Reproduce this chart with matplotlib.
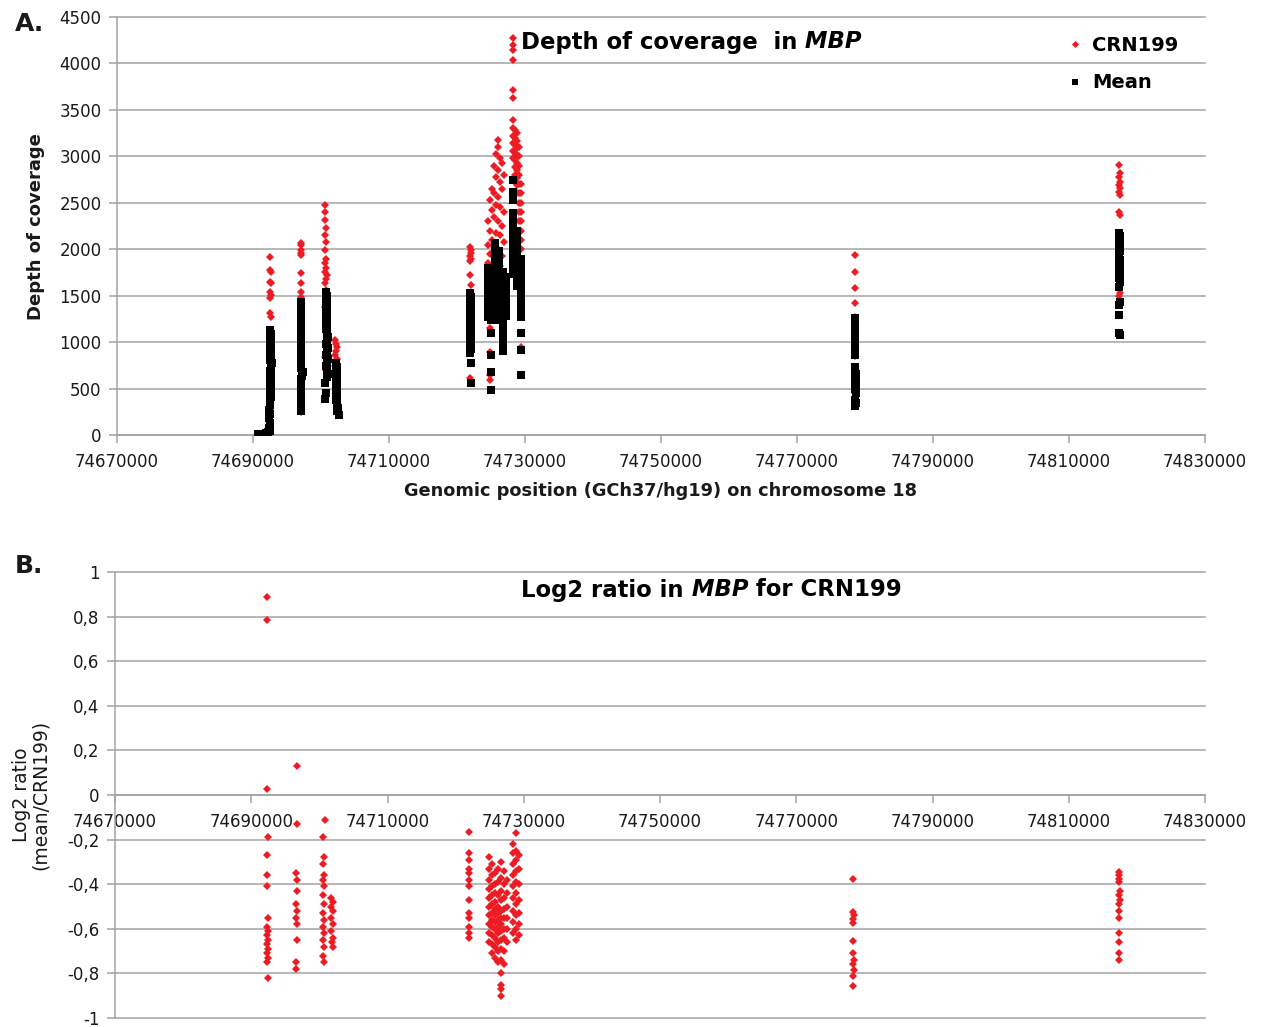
import matplotlib
matplotlib.use("Agg")
import matplotlib.pyplot as plt
from matplotlib.lines import Line2D
from matplotlib.ticker import FixedLocator, FuncFormatter

plt.rcParams['font.family'] = ['DejaVu Sans']

# ---------------- data ----------------
x_ticks = [74670000, 74690000, 74710000, 74730000, 74750000,
           74770000, 74790000, 74810000, 74830000]
depth_ticks = [0, 500, 1000, 1500, 2000, 2500, 3000, 3500, 4000, 4500]
ratio_ticks = [-1, -0.8, -0.6, -0.4, -0.2, 0, 0.2, 0.4, 0.6, 0.8, 1]

# CRN199 depth of coverage: (genomic position, [depth values at that position column])
crn199_columns = [
    (74692500, [1917, 1777, 1648, 1540, 1475, 1314, 1130, 870, 640, 400, 270]),
    (74692650, [1755, 1637, 1508, 1271, 1000, 760, 520]),
    (74697000, [2068, 1992, 1939, 1745, 1540, 1378, 1055, 732, 480, 248]),
    (74697100, [2046, 1960, 1637, 1486, 1206, 894, 600]),
    (74700600, [2477, 2400, 2315, 2150, 1990, 1850, 1760, 1640, 1380, 840]),
    (74700750, [2230, 2080, 1900, 1800, 1680, 1560, 1345, 700]),
    (74700900, [1720, 1160, 625]),
    (74702000, [1020, 860, 740]),
    (74702150, [980, 900, 780]),
    (74702300, [950, 820, 700]),
    (74721900, [2025, 1930, 1870, 1723, 1530, 1163, 614]),
    (74722050, [1990, 1960, 1900, 1615, 1378, 970]),
    (74724560, [2300, 2050, 1850, 1530, 1450]),
    (74724850, [2530, 2200, 1950, 1600, 1250, 1150, 894, 646, 592]),
    (74725150, [2650, 2420, 2100, 1780]),
    (74725440, [2900, 2600, 2350, 2020, 1700]),
    (74725740, [3020, 2780, 2480, 2180, 1900]),
    (74726030, [3177, 3100, 2850, 2560, 2300, 2000, 1550]),
    (74726320, [2980, 2720, 2450, 2150, 1820]),
    (74726620, [2930, 2650, 2250, 1930, 1350]),
    (74726910, [2800, 2400, 2080, 1650]),
    (74728240, [4275, 4200, 4150, 4040, 3715, 3630, 3390, 3300, 3220, 3140, 3060, 2980]),
    (74728530, [3280, 3200, 3120, 3040, 2960, 2880, 2800, 2720]),
    (74728820, [3250, 3170, 3090, 3010, 2930, 2850, 2770, 2690, 2610]),
    (74729120, [3100, 3000, 2900, 2800, 2700, 2600, 2500, 2400, 2300]),
    (74729410, [2700, 2600, 2500, 2400, 2300, 2200, 2100, 2000, 1900, 1314, 948]),
    (74778500, [1938, 1755, 1422, 1150, 850, 452]),
    (74778600, [1583, 1271, 1000, 700, 360]),
    (74817400, [2908, 2779, 2693, 2617, 2400, 1745, 1500]),
    (74817500, [2822, 2725, 2660, 2585, 2370, 1530]),
]

# Mean depth of coverage: (genomic position, [depth values])
mean_columns = [
    (74690750, [8]), (74691050, [10]), (74691350, [12]), (74691650, [15]),
    (74691950, [22]), (74692200, [35]),
    (74692350, [270, 180, 80]),
    (74692500, [1130, 1050, 970, 890, 810, 690, 610, 530, 450, 370, 320, 230, 130, 40]),
    (74692650, [1090, 1010, 930, 850, 730, 650, 570, 490, 410]),
    (74692800, [770]),
    (74697000, [1430, 1345, 1250, 1170, 1090, 1010, 880, 810, 600, 520, 410, 330, 255]),
    (74697100, [1390, 1290, 1210, 1130, 1050, 960, 840, 720, 560, 450, 370, 290]),
    (74697200, [640]), (74697350, [680]),
    (74700600, [560, 390]),
    (74700750, [1540, 1460, 1380, 1300, 1220, 1140, 980, 860, 740, 450]),
    (74700900, [1500, 1420, 1340, 1260, 1180, 1100, 1020, 900, 780, 700, 620]),
    (74701050, [1060, 940, 820, 660]),
    (74702150, [775, 695, 615, 535, 455, 375]),
    (74702300, [735, 655, 575, 495, 415, 335, 255]),
    (74702450, [295]), (74702600, [215]),
    (74721900, [1530, 1450, 1370, 1290, 1210, 1130, 1050, 970, 883]),
    (74722050, [1490, 1410, 1330, 1250, 1170, 1090, 1010, 930, 775, 560]),
    (74724560, [1800, 1750, 1700, 1650, 1600, 1550, 1500, 1450, 1400, 1350, 1300, 1270]),
    (74725000, [1780, 1720, 1660, 1600, 1540, 1480, 1420, 1360, 1300, 1240, 1100, 860, 680, 485]),
    (74725590, [2068, 2000, 1940, 1880, 1820, 1760, 1700, 1640, 1580, 1520, 1460, 1400, 1340, 1280, 1240]),
    (74726180, [1980, 1910, 1840, 1780, 1720, 1660, 1600, 1540, 1480, 1420, 1360, 1300, 1240]),
    (74726770, [1750, 1690, 1630, 1570, 1510, 1450, 1390, 1330, 1270, 1210, 1150, 1090, 1030, 970, 900]),
    (74727210, [1700, 1640, 1580, 1520, 1460, 1400, 1340, 1280]),
    (74728240, [2746, 2617, 2570, 2530, 2390, 2330, 2270, 2210, 2150, 2090, 2030, 1970, 1910, 1850, 1790, 1730]),
    (74728820, [2200, 2140, 2080, 2020, 1960, 1900, 1840, 1780, 1720, 1660, 1600]),
    (74729410, [1900, 1840, 1780, 1720, 1670, 1610, 1550, 1490, 1430, 1370, 1314, 1270, 1100, 915, 646]),
    (74778500, [1260, 1200, 1140, 1080, 1020, 937, 860, 700, 620, 560, 490, 377, 310]),
    (74778600, [1230, 1170, 1110, 1050, 990, 900, 732]),
    (74778650, [660, 592, 520, 452, 340]),
    (74817400, [2175, 2100, 2020, 1940, 1852, 1770, 1690, 1594, 1400, 1292]),
    (74817500, [2140, 2060, 1980, 1885, 1810, 1730, 1650, 1432]),
    (74817300, [1098]), (74817450, [1080]),
]

# Log2 ratio (mean/CRN199): (genomic position, [ratio values])
ratio_columns = [
    (74692300, [0.888, 0.785, 0.027, -0.27, -0.36, -0.41, -0.59, -0.63, -0.67, -0.71, -0.75]),
    (74692450, [-0.19, -0.55, -0.61, -0.65, -0.69, -0.73, -0.82]),
    (74696600, [-0.35, -0.49, -0.55, -0.75, -0.78]),
    (74696700, [0.13, -0.13, -0.43, -0.65]),
    (74696750, [-0.38, -0.52, -0.58]),
    (74700500, [-0.19, -0.31, -0.38, -0.45, -0.53, -0.59, -0.65, -0.72]),
    (74700650, [-0.28, -0.36, -0.41, -0.49, -0.56, -0.62, -0.68, -0.75]),
    (74700800, [-0.11]),
    (74701700, [-0.46, -0.50, -0.55, -0.61]),
    (74701850, [-0.66]),
    (74702000, [-0.48, -0.52, -0.58, -0.64, -0.68]),
    (74721900, [-0.166, -0.26, -0.29, -0.35, -0.41, -0.47, -0.55, -0.62]),
    (74722000, [-0.33, -0.38, -0.53, -0.59, -0.64]),
    (74724903, [-0.28, -0.33, -0.38, -0.42, -0.46, -0.50, -0.54, -0.58, -0.62, -0.66]),
    (74725344, [-0.31, -0.36, -0.41, -0.45, -0.49, -0.53, -0.56, -0.59, -0.63, -0.67, -0.71]),
    (74725784, [-0.35, -0.40, -0.44, -0.48, -0.51, -0.54, -0.57, -0.60, -0.64, -0.68, -0.73]),
    (74726224, [-0.33, -0.39, -0.45, -0.50, -0.53, -0.56, -0.59, -0.62, -0.66, -0.70, -0.75]),
    (74726665, [-0.30, -0.37, -0.43, -0.47, -0.52, -0.55, -0.58, -0.61, -0.65, -0.69, -0.74, -0.80, -0.85, -0.87, -0.90]),
    (74727105, [-0.34, -0.40, -0.46, -0.51, -0.55, -0.60, -0.64, -0.70, -0.76]),
    (74727546, [-0.38, -0.44, -0.50, -0.55, -0.60, -0.66]),
    (74728426, [-0.22, -0.26, -0.31, -0.36, -0.41, -0.46, -0.52, -0.57, -0.62]),
    (74728867, [-0.17, -0.25, -0.29, -0.34, -0.39, -0.44, -0.49, -0.54, -0.60, -0.65]),
    (74729307, [-0.27, -0.33, -0.40, -0.47, -0.53, -0.58, -0.63]),
    (74778400, [-0.377, -0.525, -0.575, -0.655, -0.71, -0.76, -0.81, -0.856]),
    (74778450, [-0.54, -0.74, -0.785]),
    (74778350, [-0.555]),
    (74817400, [-0.345, -0.36, -0.375, -0.39, -0.45, -0.52, -0.55, -0.62, -0.66, -0.71, -0.74]),
    (74817450, [-0.43, -0.47]),
    (74817350, [-0.49]),
]


def expand(columns):
    xs, ys = [], []
    for pos, vals in columns:
        for v in vals:
            xs.append(pos)
            ys.append(v)
    return xs, ys


RED = '#ED1C24'
GRID = '#a3a3a3'
TXT = '#1a1a1a'
W, H = 1262, 1027
RED_MS = 4.2
BLK_MS = 5.3

fig = plt.figure(figsize=(W / 100, H / 100), dpi=100)
ax1 = fig.add_axes([117 / W, 1 - 435 / H, (1205 - 117) / W, (435 - 17) / H])
ax2 = fig.add_axes([115 / W, 1 - 1018 / H, (1205 - 115) / W, (1018 - 572) / H])

for ax in (ax1, ax2):
    ax.set_xlim(x_ticks[0], x_ticks[-1])
    ax.xaxis.set_major_locator(FixedLocator(x_ticks))
    ax.xaxis.set_major_formatter(FuncFormatter(lambda v, p: f"{int(round(v))}"))
    for s in ('top', 'right'):
        ax.spines[s].set_visible(False)
    for s in ('left', 'bottom'):
        ax.spines[s].set_color(GRID)
        ax.spines[s].set_linewidth(1.1)
    ax.grid(axis='y', color=GRID, linewidth=1.1)
    ax.set_axisbelow(True)
    ax.tick_params(axis='both', direction='out', length=6, width=1.1, color=GRID,
                   labelsize=12, labelcolor=TXT)
    ax.tick_params(axis='x', pad=7)
    ax.tick_params(axis='y', pad=5)

# ---- panel A ----
ax1.set_ylim(depth_ticks[0], depth_ticks[-1])
ax1.yaxis.set_major_locator(FixedLocator(depth_ticks))
cx, cy = expand(crn199_columns)
mx, my = expand(mean_columns)
ax1.plot(cx, cy, ls='none', marker='D', ms=RED_MS, mew=0, color=RED, zorder=3)
ax1.plot(mx, my, ls='none', marker='s', ms=BLK_MS, mew=0, color='black', zorder=4)

handles = [Line2D([], [], ls='none', marker='D', ms=RED_MS * 0.85, mew=0, color=RED),
           Line2D([], [], ls='none', marker='s', ms=BLK_MS * 0.8, mew=0, color='black')]
ax1.legend(handles, ['CRN199', 'Mean'], frameon=False, loc='upper left',
           bbox_to_anchor=(1068 / W, 1 - 36 / H), bbox_transform=fig.transFigure,
           handlelength=0.7, handletextpad=0.55, labelspacing=0.95,
           borderpad=0, borderaxespad=0,
           prop=dict(weight='bold', size=14))

t1 = fig.text(521 / W, 1 - 42 / H, 'Depth of coverage  in', fontsize=16.4,
              fontweight='bold', va='center', ha='left', color='black')
ax1.annotate(' MBP', xy=(1, 0.5), xycoords=t1, va='center', ha='left',
             fontsize=16.4, fontweight='bold', fontstyle='italic', color='black',
             annotation_clip=False)

fig.text(36 / W, 1 - 227 / H, 'Depth of coverage', rotation=90, fontsize=13,
         fontweight='bold', ha='center', va='center', color=TXT)
fig.text(661 / W, 1 - 491 / H, 'Genomic position (GCh37/hg19) on chromosome 18',
         fontsize=12.8, fontweight='bold', ha='center', va='center', color=TXT)
fig.text(15 / W, 1 - 24 / H, 'A.', fontsize=18, fontweight='bold', ha='left',
         va='center', color=TXT)

# ---- panel B ----
ax2.set_ylim(ratio_ticks[0], ratio_ticks[-1])
ax2.yaxis.set_major_locator(FixedLocator(ratio_ticks))


def comma_fmt(v, p):
    if abs(v - round(v)) < 1e-9:
        return str(int(round(v)))
    return f"{v:.1f}".replace('.', ',')


ax2.yaxis.set_major_formatter(FuncFormatter(comma_fmt))
ax2.spines['bottom'].set_position(('data', 0))
rx, ry = expand(ratio_columns)
ax2.plot(rx, ry, ls='none', marker='D', ms=RED_MS, mew=0, color=RED, zorder=3)
for gl in ax2.get_ygridlines():
    gl.set_clip_on(False)
for gl in ax1.get_ygridlines():
    gl.set_clip_on(False)

t2 = fig.text(521 / W, 1 - 590 / H, 'Log2 ratio in', fontsize=16.4,
              fontweight='bold', va='center', ha='left', color='black')
a2 = ax2.annotate(' MBP', xy=(1, 0.5), xycoords=t2, va='center', ha='left',
                  fontsize=16.4, fontweight='bold', fontstyle='italic',
                  color='black', annotation_clip=False)
ax2.annotate(' for CRN199', xy=(1, 0.5), xycoords=a2, va='center', ha='left',
             fontsize=16.4, fontweight='bold', color='black',
             annotation_clip=False)

fig.text(31 / W, 1 - 795 / H, 'Log2 ratio\n(mean/CRN199)', rotation=90,
         fontsize=13.5, ha='center', va='center', multialignment='center',
         color=TXT, linespacing=1.0)
fig.text(15 / W, 1 - 566 / H, 'B.', fontsize=18, fontweight='bold', ha='left',
         va='center', color=TXT)

fig.savefig('out.png', dpi=100)
